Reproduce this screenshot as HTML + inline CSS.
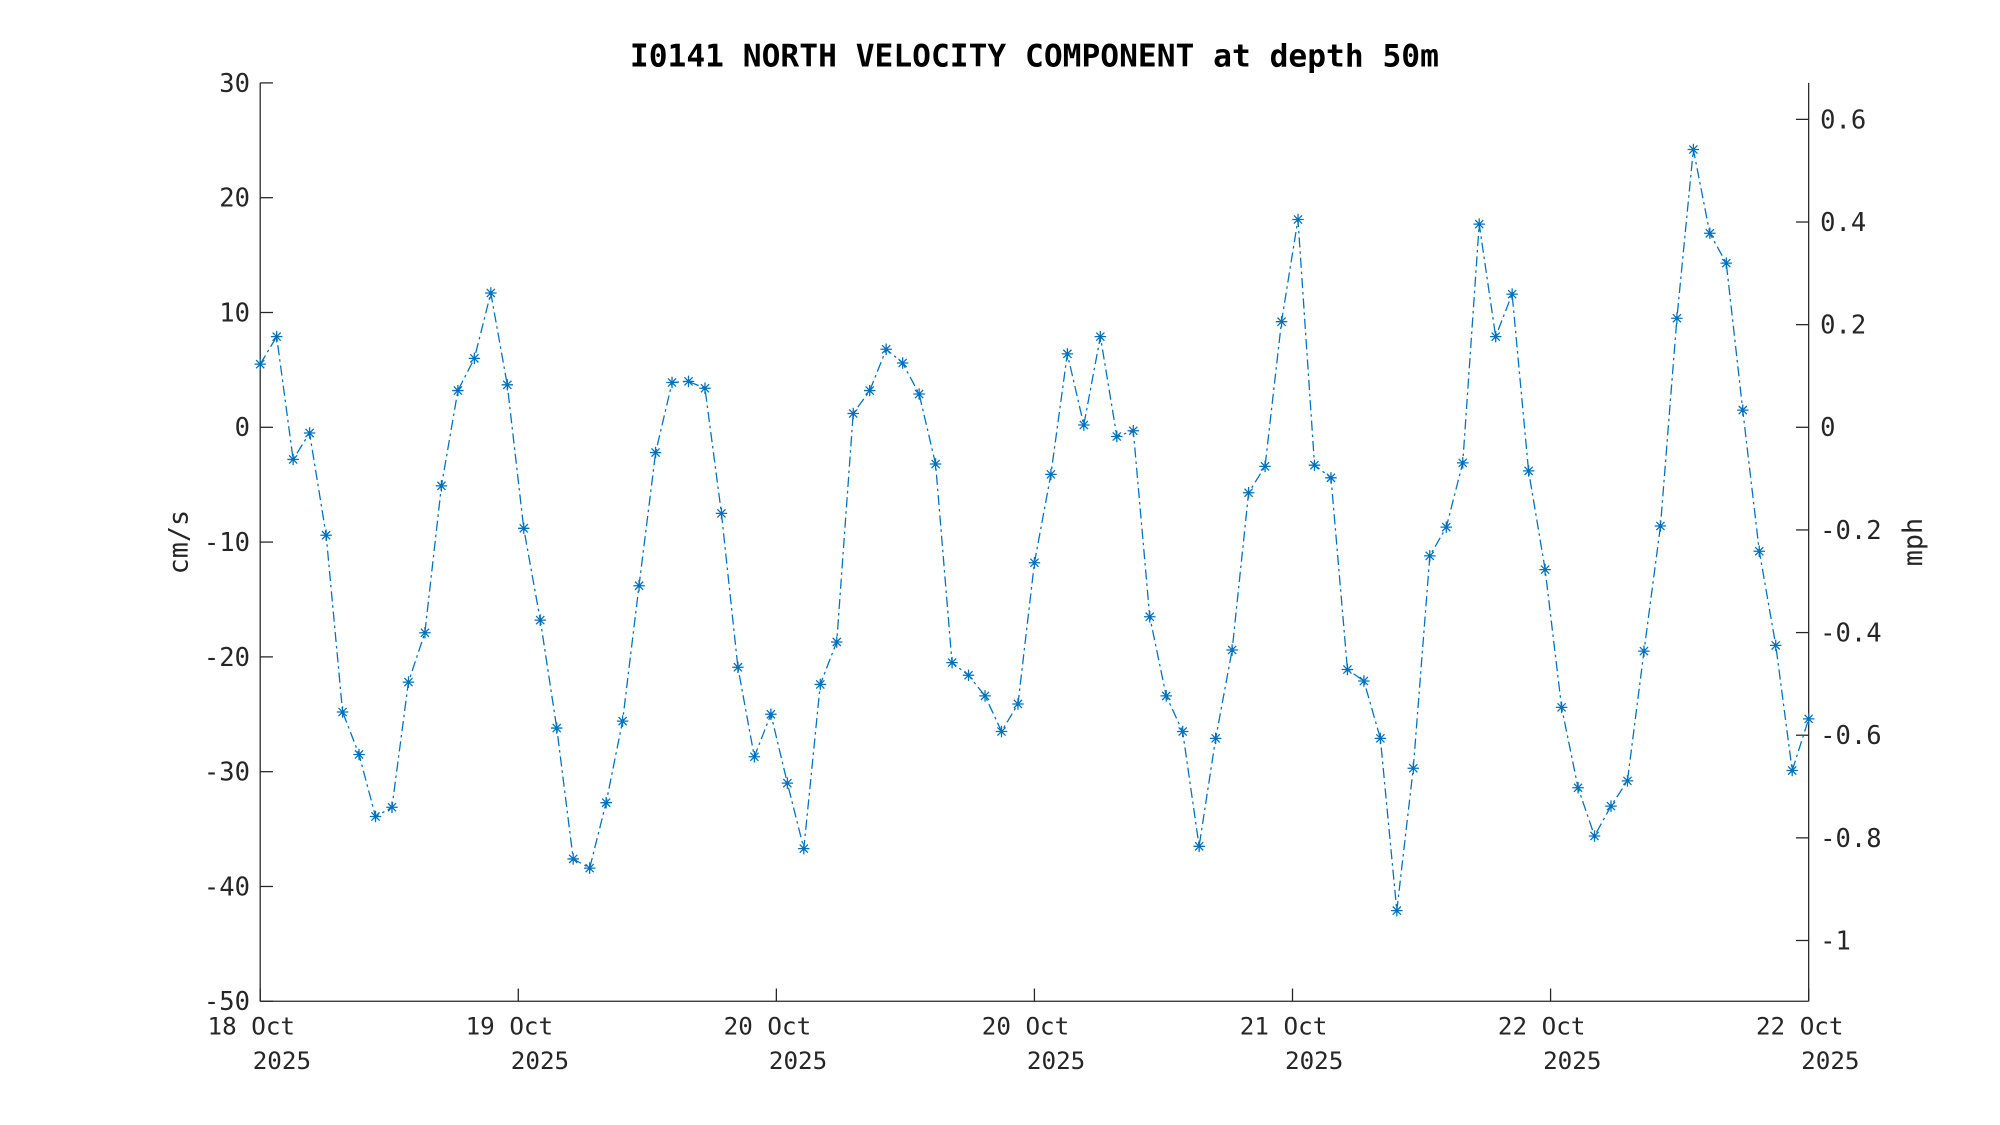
<!DOCTYPE html>
<html><head><meta charset="utf-8"><style>
html,body{margin:0;padding:0;background:#fff;}
svg{display:block;}
text{font-family:"DejaVu Sans Mono","Liberation Mono",monospace;fill:#262626;}
</style></head><body>
<svg id="s" width="2000" height="1125" viewBox="0 0 1568 882" preserveAspectRatio="none" xmlns="http://www.w3.org/2000/svg">
<rect width="1568" height="882" fill="#fff"/>
<text x="811" y="52" text-anchor="middle" font-size="24.5" font-weight="bold" style="fill:#000">I0141 NORTH VELOCITY COMPONENT at depth 50m</text>
<g stroke="#262626" stroke-width="1" fill="none">
<line x1="204" y1="65" x2="204" y2="785"/>
<line x1="204" y1="785" x2="1418" y2="785"/>
<line x1="1418" y1="65" x2="1418" y2="785"/>
</g>
<g id="ax"></g>
<text transform="translate(147,425) rotate(-90)" text-anchor="middle" font-size="21">cm/s</text>
<text transform="translate(1507,425) rotate(-90)" text-anchor="middle" font-size="21">mph</text>
<g id="data"></g>
</svg>
<script>
var ns="http://www.w3.org/2000/svg";
function el(p,t,a,txt){var e=document.createElementNS(ns,t);for(var k in a)e.setAttribute(k,a[k]);if(txt!==undefined)e.textContent=txt;p.appendChild(e);return e;}
var ax=document.getElementById("ax");
for(var v=30;v>=-50;v-=10){var y=335-v*9;
el(ax,"line",{x1:204,y1:y,x2:214,y2:y,stroke:"#262626","stroke-width":1});
el(ax,"text",{x:196,y:y+7,"text-anchor":"end","font-size":20},String(v));}
var r=[0.6,0.4,0.2,0,-0.2,-0.4,-0.6,-0.8,-1];
r.forEach(function(m){var y=335-m/0.2*80.47;
el(ax,"line",{x1:1408,y1:y,x2:1418,y2:y,stroke:"#262626","stroke-width":1});
el(ax,"text",{x:1427,y:y+7,"font-size":20},String(m));});
var xl=["18 Oct","19 Oct","20 Oct","20 Oct","21 Oct","22 Oct","22 Oct"];
for(var i=0;i<7;i++){var x=204+i*202.33;
el(ax,"line",{x1:x,y1:775,x2:x,y2:785,stroke:"#262626","stroke-width":1});
el(ax,"text",{x:x-7,y:811,"text-anchor":"middle","font-size":19},xl[i]);
el(ax,"text",{x:x+17,y:838,"text-anchor":"middle","font-size":19},"2025");}
var d=[5.5,7.9,-2.8,-0.5,-9.4,-24.8,-28.5,-33.9,-33.1,-22.2,
-17.9,-5.1,3.2,6.0,11.7,3.7,-8.8,-16.8,-26.2,-37.6,
-38.4,-32.7,-25.6,-13.8,-2.2,3.9,4.0,3.4,-7.5,-20.9,
-28.7,-25.0,-31.0,-36.7,-22.4,-18.7,1.2,3.2,6.8,5.6,
2.9,-3.2,-20.5,-21.6,-23.4,-26.5,-24.1,-11.8,-4.1,6.4,
0.2,7.9,-0.8,-0.3,-16.5,-23.4,-26.5,-36.5,-27.1,-19.4,
-5.7,-3.4,9.2,18.1,-3.3,-4.4,-21.1,-22.1,-27.1,-42.1,
-29.7,-11.2,-8.7,-3.1,17.7,7.9,11.6,-3.8,-12.4,-24.4,
-31.4,-35.6,-33.0,-30.8,-19.5,-8.6,9.5,24.2,16.9,14.3,
1.5,-10.8,-19.0,-29.9,-25.4];
var g=document.getElementById("data");var pts=[];var mk="";
var dx=1214/(d.length-1);
d.forEach(function(v,i){var x=204+i*dx,y=335-v*9;pts.push(x.toFixed(1)+","+y.toFixed(1));
var s=4.5,t=3.2;
mk+="M"+(x-s)+" "+y+"h"+(2*s)+"M"+x+" "+(y-s)+"v"+(2*s)+"M"+(x-t)+" "+(y-t)+"l"+(2*t)+" "+(2*t)+"M"+(x-t)+" "+(y+t)+"l"+(2*t)+" "+(-2*t);});
el(g,"polyline",{points:pts.join(" "),fill:"none",stroke:"#0072BD","stroke-width":1,"stroke-dasharray":"8,3,2,3"});
el(g,"path",{d:mk,fill:"none",stroke:"#0072BD","stroke-width":1});
</script>
</body></html>
